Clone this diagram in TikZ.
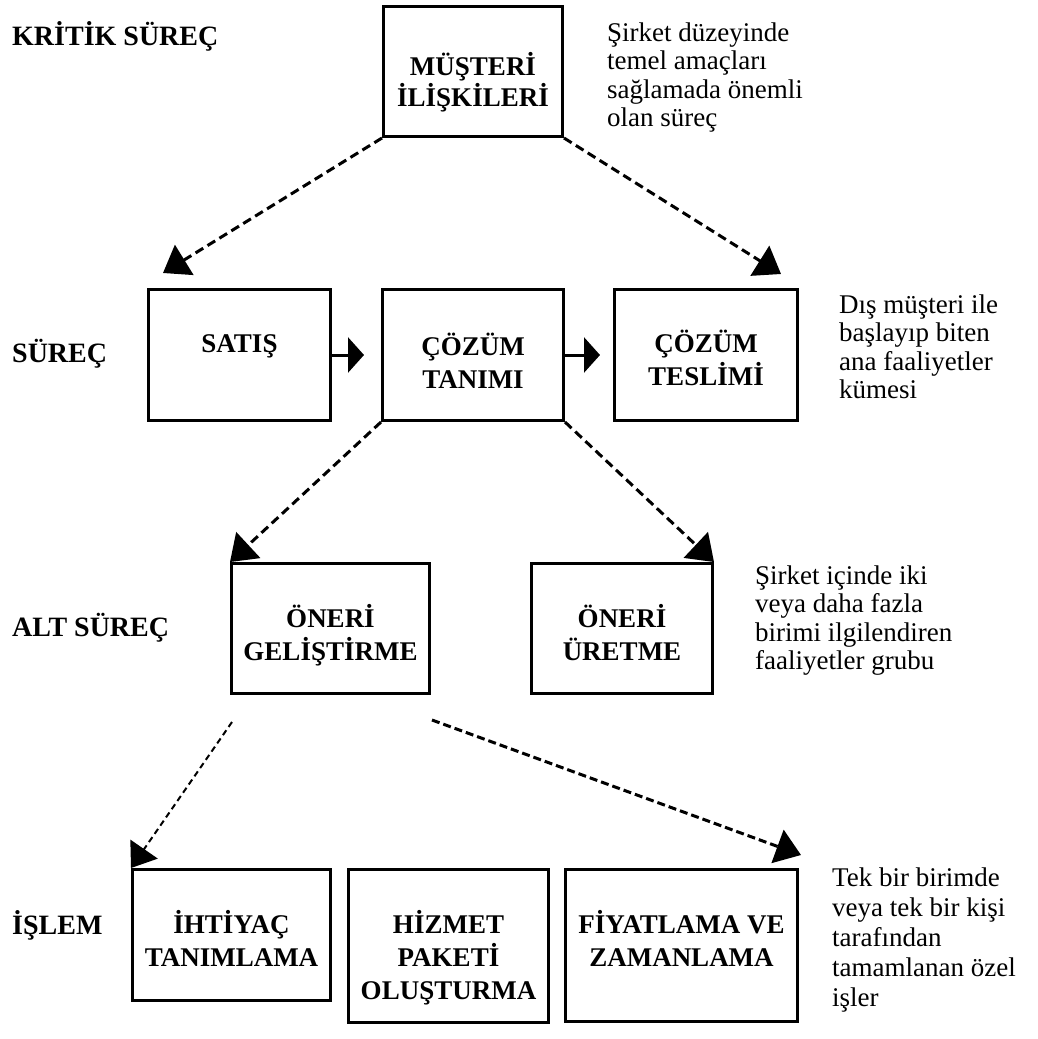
\documentclass[tikz,border=0pt]{standalone}
\usepackage{fontspec}
\setmainfont{Liberation Serif}
\usetikzlibrary{arrows.meta,calc}
% multi-line centred label, moved vertically by #1 without changing its box
\newcommand\boxlines[2]{\raisebox{#1}[\height][\depth]{\begin{tabular}{@{}c@{}}#2\end{tabular}}}
\newcommand\notelines[1]{\begin{tabular}[t]{@{}l@{}}#1\end{tabular}}
\begin{document}
\begin{tikzpicture}[x=1pt,y=-1pt,
  box/.style={draw, line width=3.2pt, inner sep=0pt,
    font=\fontsize{27}{33}\selectfont\bfseries},
  sz/.style 2 args={minimum width=#1pt, minimum height=#2pt},
  level/.style={anchor=base west, inner sep=0pt,
    font=\fontsize{28}{30}\selectfont\bfseries},
  note/.style={anchor=base west, inner sep=0pt,
    font=\fontsize{27}{28.5}\selectfont},
  link/.style={line width=3pt, dash pattern=on 9pt off 5pt,
    -{Triangle[length=25pt,width=35pt]}},
  thinlink/.style={line width=2pt, dash pattern=on 6pt off 4pt,
    -{Triangle[length=23pt,width=33pt]}},
  flow/.style={line width=3pt, -{Triangle[length=16pt,width=35pt]}},
]
\fill[white] (0,0) rectangle (1038,1039);
\useasboundingbox (0,0) rectangle (1038,1039);

% level names
\node[level] (lk) at (12,45) {KRİTİK SÜREÇ};
\node[level] (ls) at (12,362) {SÜREÇ};
\node[level] (la) at (12,636) {ALT SÜREÇ};
\node[level] (li) at (12,934) {İŞLEM};

% boxes
\node[box, sz={178.8}{129.8}, font=\fontsize{27}{28}\selectfont\bfseries] (mus) at (473,71.5)
  {\boxlines{-12pt}{MÜŞTERİ\\İLİŞKİLERİ}};
\node[box, sz={181.8}{130.8}] (sat) at (239.5,355) {\boxlines{9.6pt}{SATIŞ}};
\node[box, sz={180.8}{130.8}] (coz) at (473,355) {\boxlines{-10pt}{ÇÖZÜM\\TANIMI}};
\node[box, sz={182.8}{130.8}] (tes) at (706,355) {\boxlines{-7pt}{ÇÖZÜM\\TESLİMİ}};
\node[box, sz={197.8}{129.8}] (gel) at (330.5,628.5) {\boxlines{-8.4pt}{ÖNERİ\\GELİŞTİRME}};
\node[box, sz={180.8}{129.8}] (ure) at (622,628.5) {\boxlines{-8.4pt}{ÖNERİ\\ÜRETME}};
\node[box, sz={197.8}{130.8}] (iht) at (231.5,935) {\boxlines{-8pt}{İHTİYAÇ\\TANIMLAMA}};
\node[box, sz={199.8}{152.8}] (hiz) at (448.5,946) {\boxlines{-13.4pt}{HİZMET\\PAKETİ\\OLUŞTURMA}};
\node[box, sz={231.8}{151.8}] (fiy) at (681.5,945.5) {\boxlines{2.6pt}{FİYATLAMA VE\\ZAMANLAMA}};

% side notes
\node[note] (n1) at (607,41) {\notelines{Şirket düzeyinde\\temel amaçları\\sağlamada önemli\\olan süreç}};
\node[note] (n2) at (839,313) {\notelines{Dış müşteri ile\\başlayıp biten\\ana faaliyetler\\kümesi}};
\node[note] (n3) at (755,584) {\notelines{Şirket içinde iki\\veya daha fazla\\birimi ilgilendiren\\faaliyetler grubu}};
\node[note, font=\fontsize{27}{30}\selectfont] (n4) at (832,886)
  {\notelines{Tek bir birimde\\veya tek bir kişi\\tarafından\\tamamlanan özel\\işler}};

% free ends of connectors
\coordinate (t1) at (163,273);
\coordinate (t2) at (781,274);
\coordinate (h1) at (364,355);
\coordinate (h2) at (600,355);
\coordinate (s1) at (232,722);
\coordinate (s2) at (432,720);
\coordinate (t3) at (801,855);

% connectors
\draw[link] (mus.south west) -- (t1);
\draw[link] (mus.south east) -- (t2);
\draw[flow] (sat.east) -- (h1);
\draw[flow] (coz.east) -- (h2);
\draw[link] (coz.south west) -- (gel.north west);
\draw[link] (coz.south east) -- (ure.north east);
\draw[thinlink] (s1) -- (iht.north west);
\draw[link, dash pattern=on 8pt off 4pt] (s2) -- (t3);
\end{tikzpicture}
\end{document}
